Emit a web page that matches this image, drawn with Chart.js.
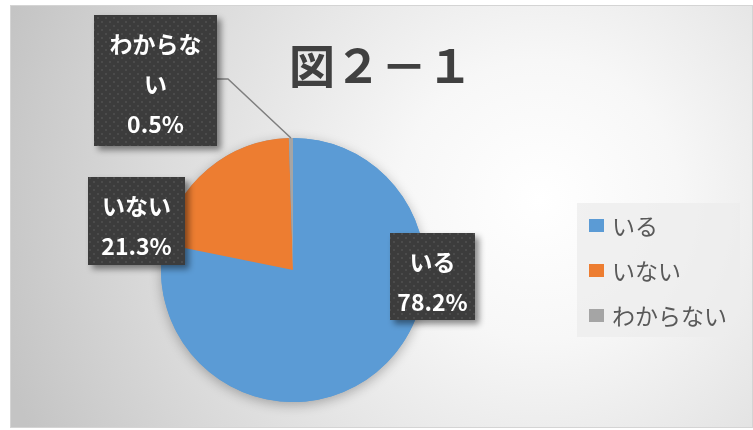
<!DOCTYPE html>
<html lang="ja">
<head>
<meta charset="utf-8">
<title>図２－１</title>
<script src="https://cdn.jsdelivr.net/npm/chart.js@4.4.1/dist/chart.umd.min.js"></script>
<style>
  html, body { margin: 0; padding: 0; background: #ffffff; }
  #wrap { position: relative; width: 753px; height: 430px; }
</style>
</head>
<body>
<div id="wrap"><canvas id="pieChart" width="753" height="430"></canvas></div>
<script>
const categories = ['いる', 'いない', 'わからない'];
const shares = [78.2, 21.3, 0.5];
const sliceColors = ['#5B9BD5', '#ED7D31', '#A5A5A5'];
const chartTitle = '図２－１';

const FONT = '"Noto Sans CJK JP", "Noto Sans", sans-serif';

// where each data label box sits (same order as categories)
const labelBoxes = [
    { x: 390, y: 233, w: 85, h: 87 },
    { x: 88, y: 177, w: 97, h: 88 },
    { x: 94, y: 15, w: 123, h: 131, leader: true }
];

function dotPattern(ctx) {
    const c = document.createElement('canvas');
    c.width = 8; c.height = 8;
    const p = c.getContext('2d');
    p.fillStyle = '#3c3c3c';
    p.fillRect(0, 0, 8, 8);
    p.fillStyle = '#4b4b4b';
    p.fillRect(1, 1, 2, 2);
    p.fillRect(5, 5, 2, 2);
    return ctx.createPattern(c, 'repeat');
}

function wrapText(ctx, text, maxWidth) {
    const lines = [];
    let cur = '';
    for (const ch of text) {
        if (cur && ctx.measureText(cur + ch).width > maxWidth) {
            lines.push(cur);
            cur = ch;
        } else {
            cur += ch;
        }
    }
    if (cur) lines.push(cur);
    return lines;
}

const decorPlugin = {
    id: 'decor',
    beforeDraw(chart) {
        const ctx = chart.ctx;
        ctx.save();
        ctx.fillStyle = '#ffffff';
        ctx.fillRect(0, 0, chart.width, chart.height);
        // frame with radial fill
        const g = ctx.createRadialGradient(540, 200, 0, 540, 200, 560);
        g.addColorStop(0, '#ffffff');
        g.addColorStop(0.25, '#f7f7f7');
        g.addColorStop(0.7, '#dadada');
        g.addColorStop(1, '#c4c4c4');
        ctx.fillStyle = g;
        ctx.fillRect(10, 5, 743, 423);
        ctx.strokeStyle = '#d4d4d4';
        ctx.lineWidth = 1;
        ctx.strokeRect(10.5, 5.5, 742, 422);

        // title
        ctx.fillStyle = '#404040';
        ctx.font = 'bold 46px ' + FONT;
        ctx.textAlign = 'center';
        ctx.textBaseline = 'middle';
        ctx.fillText(chartTitle, 381, 66);

        // legend
        ctx.fillStyle = 'rgba(236, 236, 236, 0.75)';
        ctx.fillRect(577, 203, 163, 134);
        ctx.font = '23px ' + FONT;
        ctx.textAlign = 'left';
        const items = chart.options.plugins.legend.labels.generateLabels(chart);
        items.forEach((item, i) => {
            const cy = 225 + i * 45;
            ctx.fillStyle = item.fillStyle;
            ctx.fillRect(589, cy - 6, 15, 13);
            ctx.fillStyle = '#595959';
            ctx.fillText(item.text, 612, cy + 1);
        });
        ctx.restore();
    },
    beforeDatasetsDraw(chart) {
        // soft shadow under the whole pie
        const arc = chart.getDatasetMeta(0).data[0];
        const ctx = chart.ctx;
        ctx.save();
        ctx.shadowColor = 'rgba(0, 0, 0, 0.28)';
        ctx.shadowBlur = 12;
        ctx.shadowOffsetY = 3;
        ctx.fillStyle = sliceColors[0];
        ctx.beginPath();
        ctx.arc(arc.x, arc.y, arc.outerRadius, 0, Math.PI * 2);
        ctx.fill();
        ctx.restore();
    },
    afterDatasetsDraw(chart) {
        const ctx = chart.ctx;
        const arcs = chart.getDatasetMeta(0).data;
        const pattern = dotPattern(ctx);
        arcs.forEach((arc, i) => {
            const box = labelBoxes[i];
            ctx.save();
            if (box.leader) {
                const a = (arc.startAngle + arc.endAngle) / 2;
                const ex = arc.x + Math.cos(a) * arc.outerRadius;
                const ey = arc.y + Math.sin(a) * arc.outerRadius;
                ctx.strokeStyle = '#7f7f7f';
                ctx.lineWidth = 1.5;
                ctx.beginPath();
                ctx.moveTo(box.x + box.w, box.y + 64);
                ctx.lineTo(box.x + box.w + 11, box.y + 64);
                ctx.lineTo(ex, ey);
                ctx.stroke();
            }
            ctx.shadowColor = 'rgba(0, 0, 0, 0.45)';
            ctx.shadowBlur = 6;
            ctx.shadowOffsetX = 4;
            ctx.shadowOffsetY = 4;
            ctx.fillStyle = pattern;
            ctx.fillRect(box.x, box.y, box.w, box.h);
            ctx.shadowColor = 'transparent';

            ctx.font = 'bold 23px ' + FONT;
            ctx.fillStyle = '#ffffff';
            ctx.textAlign = 'center';
            ctx.textBaseline = 'middle';
            const lines = wrapText(ctx, categories[i], box.w - 14);
            lines.push(shares[i].toFixed(1) + '%');
            const cx = box.x + box.w / 2;
            lines.forEach((t, k) => {
                ctx.fillText(t, cx, box.y + 29 + k * 40);
            });
            ctx.restore();
        });
    }
};

new Chart(document.getElementById('pieChart'), {
    type: 'pie',
    data: {
        labels: categories,
        datasets: [{
            data: shares,
            backgroundColor: sliceColors,
            borderWidth: 0
        }]
    },
    options: {
        responsive: false,
        animation: false,
        events: [],
        layout: { padding: { left: 161, right: 328, top: 138, bottom: 28 } },
        plugins: {
            legend: { display: false },
            title: { display: false },
            tooltip: { enabled: false }
        }
    },
    plugins: [decorPlugin]
});
</script>
</body>
</html>
